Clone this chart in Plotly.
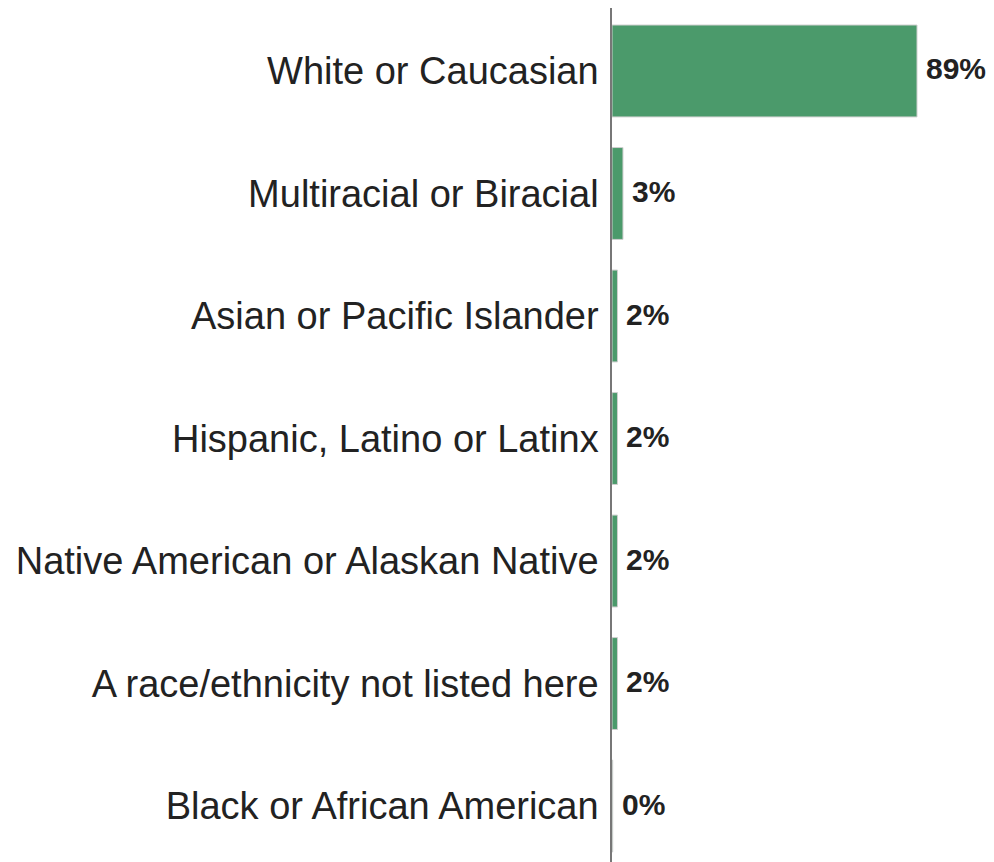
import plotly.graph_objects as go

categories = [
    "White or Caucasian",
    "Multiracial or Biracial",
    "Asian or Pacific Islander",
    "Hispanic, Latino or Latinx",
    "Native American or Alaskan Native",
    "A race/ethnicity not listed here",
    "Black or African American",
]
values = [89, 3.2, 1.6, 1.6, 1.6, 1.6, 0.2]
labels = ["89%", "3%", "2%", "2%", "2%", "2%", "0%"]

fig = go.Figure(go.Bar(
    x=values, y=categories, orientation="h",
    marker=dict(color="#4B9A6B", line=dict(color="#cfcfcf", width=1)),
    width=0.75,
    hoverinfo="skip",
))

for v, c, t in zip(values, categories, labels):
    fig.add_annotation(
        x=v, y=c, text=t, showarrow=False,
        xanchor="left", yanchor="middle", xshift=7, yshift=2,
        font=dict(family="Liberation Sans, Arial", size=30, color="#222222", weight="bold"),
    )

fig.update_layout(
    width=994, height=862,
    margin=dict(l=604, r=0, t=0, b=0),
    paper_bgcolor="white", plot_bgcolor="white",
    showlegend=False,
    font=dict(family="Liberation Sans, Arial", color="#222222"),
    xaxis=dict(range=[0, 113.8], visible=False, showgrid=False, zeroline=False),
    yaxis=dict(
        range=[6.522, -0.514], autorange=False,
        showline=True, linecolor="#777777", linewidth=1.5,
        showgrid=False, zeroline=False,
        ticks="", ticklabelstandoff=4,
        tickfont=dict(size=38, color="#222222"),
    ),
)

fig.write_html("out.html")
